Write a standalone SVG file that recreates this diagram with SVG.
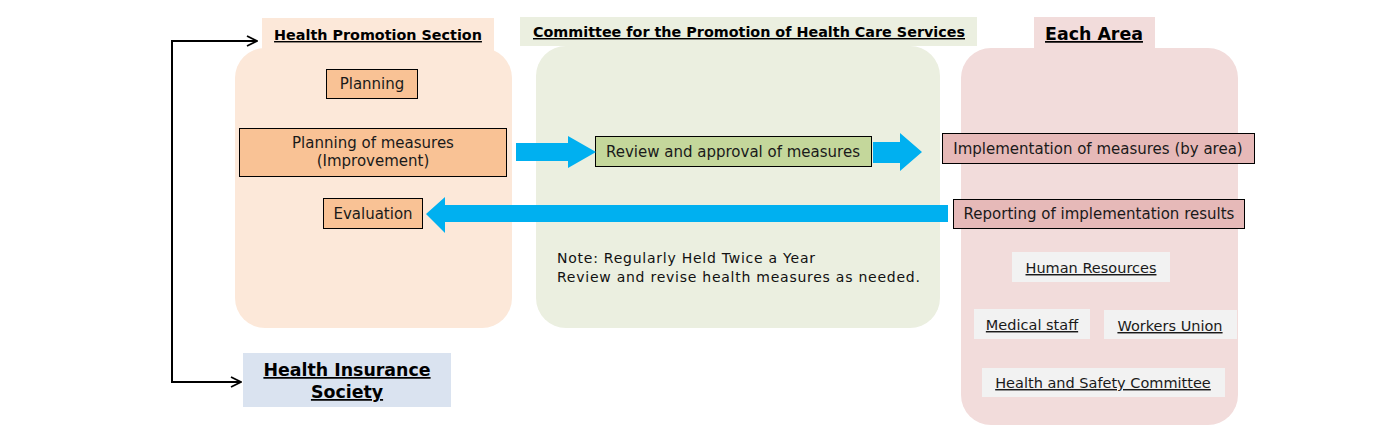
<svg xmlns="http://www.w3.org/2000/svg" width="1399" height="440" viewBox="0 0 1399 440">
<defs>
<style>
.t{font-family:"DejaVu Sans",Verdana,sans-serif;font-size:15px;fill:#1a1a1a;text-anchor:middle}
.h{font-family:"DejaVu Sans",Verdana,sans-serif;font-weight:bold;font-size:14.35px;fill:#000;text-anchor:middle;text-decoration:underline}
.hb{font-family:"DejaVu Sans",Verdana,sans-serif;font-weight:bold;font-size:17.4px;fill:#000;text-anchor:middle;text-decoration:underline}
.u{font-family:"DejaVu Sans",Verdana,sans-serif;font-size:14.5px;fill:#1a1a1a;text-anchor:middle;text-decoration:underline}
.n{font-family:"DejaVu Sans",sans-serif;font-size:14px;letter-spacing:0.75px;fill:#111}
.box{stroke:#000;stroke-width:1}
.org{fill:#f9c295}
.grn{fill:#c4d79b}
.pnk{fill:#e6b9b8}
.gry{fill:#f2f2f2}
.blue{fill:#00b0f0}
.line{fill:none;stroke:#000;stroke-width:2}
</style>
<marker id="open" viewBox="0 0 12 12" refX="11" refY="6" markerWidth="12" markerHeight="12" markerUnits="userSpaceOnUse" orient="auto">
<path d="M1,1 L11,6 L1,11" fill="none" stroke="#000" stroke-width="1.8"/>
</marker>
</defs>
<rect width="1399" height="440" fill="#fff"/>

<g id="health-promotion-section">
<rect x="262" y="18" width="232" height="40" fill="#fce8d9"/>
<rect x="235" y="48" width="277" height="280" rx="30" fill="#fce8d9"/>
<text class="h" x="378" y="40">Health Promotion Section</text>
</g>
<g id="planning">
<rect class="box org" x="326.5" y="69.5" width="91" height="29"/>
<text class="t" x="372" y="89">Planning</text>
</g>
<g id="planning-of-measures">
<rect class="box org" x="239.5" y="128.5" width="267" height="48"/>
<text class="t" x="373" y="148">Planning of measures</text>
<text class="t" x="373" y="166">(Improvement)</text>
</g>
<g id="evaluation">
<rect class="box org" x="323.5" y="198.5" width="99" height="30"/>
<text class="t" x="373" y="219">Evaluation</text>
</g>

<g id="committee">
<rect x="520" y="17" width="457" height="29" fill="#ebefe0"/>
<rect x="536" y="46" width="404" height="282" rx="30" fill="#ebefe0"/>
<text class="h" x="749" y="37">Committee for the Promotion of Health Care Services</text>
</g>
<g id="review">
<rect class="box grn" x="595.5" y="136.5" width="276" height="30"/>
<text class="t" x="733" y="157">Review and approval of measures</text>
</g>
<g id="note">
<text class="n" x="557" y="263">Note: Regularly Held Twice a Year</text>
<text class="n" x="557" y="282">Review and revise health measures as needed.</text>
</g>

<g id="each-area">
<rect x="1034" y="17" width="121" height="40" fill="#f2dcdb"/>
<rect x="961" y="48" width="277" height="377" rx="30" fill="#f2dcdb"/>
<text class="hb" x="1094" y="40">Each Area</text>
</g>
<g id="implementation">
<rect class="box pnk" x="942.5" y="133.5" width="312" height="30"/>
<text class="t" x="1098" y="154">Implementation of measures (by area)</text>
</g>
<g id="reporting">
<rect class="box pnk" x="953.5" y="199.5" width="291" height="29"/>
<text class="t" x="1099" y="219">Reporting of implementation results</text>
</g>
<g id="human-resources">
<rect class="gry" x="1012" y="252" width="158" height="30"/>
<text class="u" x="1091" y="273">Human Resources</text>
</g>
<g id="medical-staff">
<rect class="gry" x="974" y="309" width="116" height="30"/>
<text class="u" x="1032" y="330">Medical staff</text>
</g>
<g id="workers-union">
<rect class="gry" x="1104" y="310" width="133" height="29"/>
<text class="u" x="1170" y="331">Workers Union</text>
</g>
<g id="health-safety-committee">
<rect class="gry" x="982" y="368" width="243" height="29"/>
<text class="u" x="1103" y="388">Health and Safety Committee</text>
</g>

<g id="health-insurance-society">
<rect x="243" y="353" width="208" height="54" fill="#dae3f0"/>
<text class="hb" x="347" y="376">Health Insurance</text>
<text class="hb" x="347" y="398">Society</text>
</g>

<g id="connectors">
<polygon class="blue" points="516,143 568,143 568,136 596,152 568,168 568,161 516,161"/>
<polygon class="blue" points="873,142 900,142 900,133 922,152 900,171 900,163 873,163"/>
<polygon class="blue" points="948,205 445,205 445,197 426,214 445,233 445,222 948,222"/>
<polyline class="line" points="172,41 172,382 241,382" marker-end="url(#open)"/>
<path class="line" d="M171,41 L257,41" marker-end="url(#open)"/>
</g>
</svg>
